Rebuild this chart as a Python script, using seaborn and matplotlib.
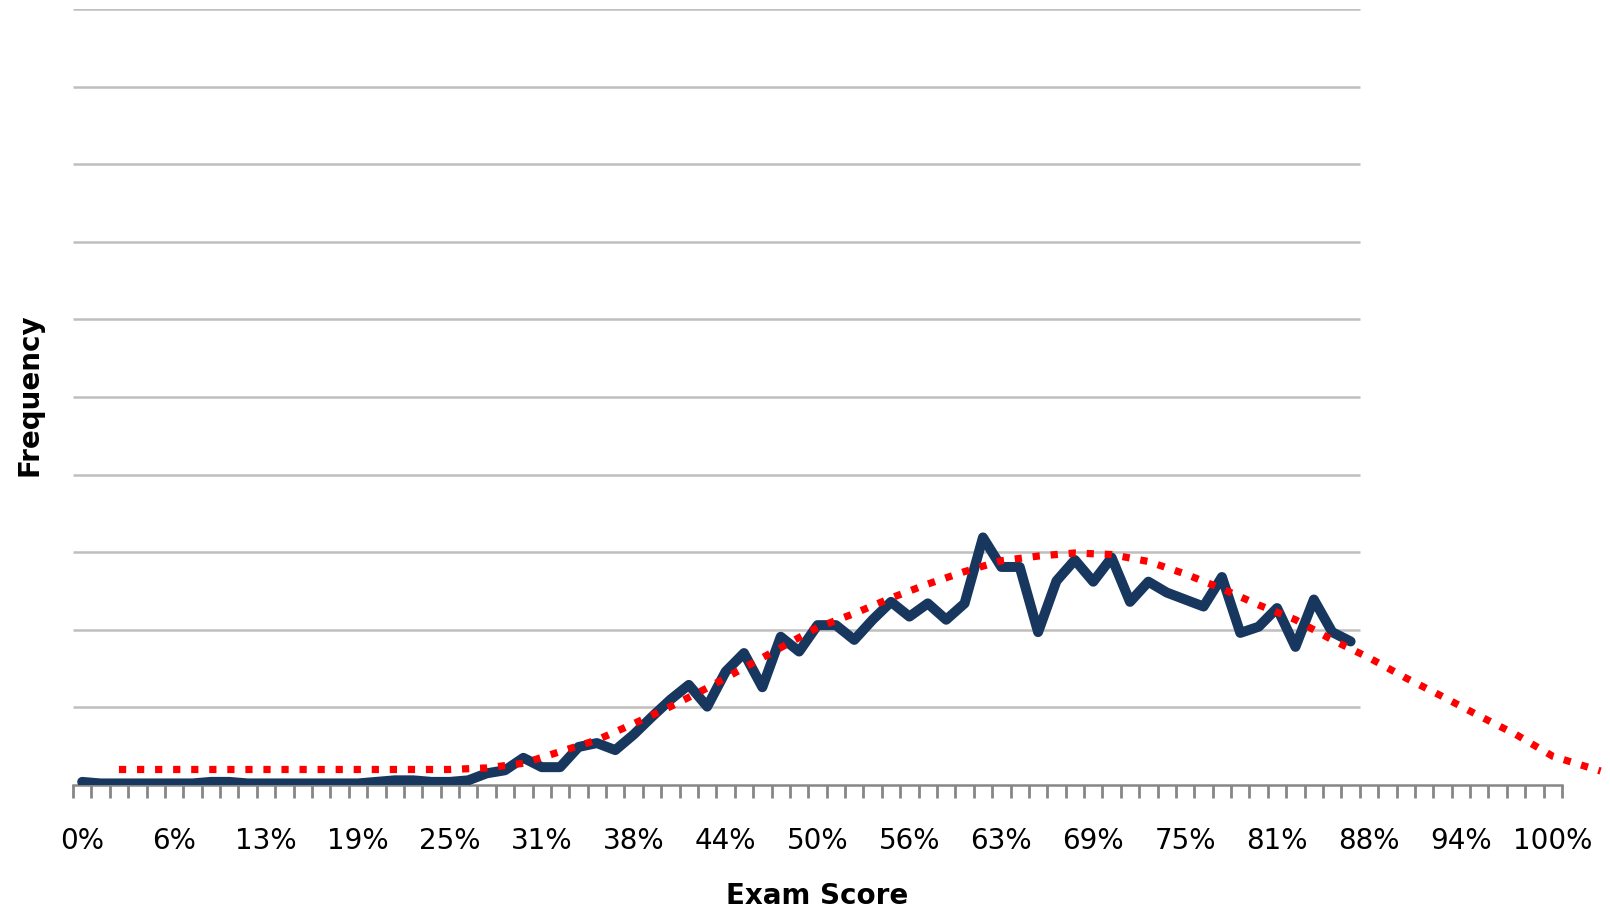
import numpy as np
import matplotlib
matplotlib.use("Agg")
import matplotlib.pyplot as plt
import seaborn as sns

### data (y in gridline units, x in percent)
scores = np.arange(70) * 1.25
freq = [0.04, 0.02, 0.02, 0.02, 0.02, 0.02, 0.02, 0.04, 0.04, 0.02,
        0.02, 0.02, 0.02, 0.02, 0.02, 0.02, 0.04, 0.06, 0.06, 0.04,
        0.04, 0.06, 0.15, 0.19, 0.35, 0.23, 0.23, 0.49, 0.54, 0.45,
        0.65, 0.88, 1.10, 1.29, 1.01, 1.46, 1.70, 1.26, 1.91, 1.72,
        2.06, 2.06, 1.87, 2.13, 2.36, 2.17, 2.34, 2.13, 2.34, 3.19,
        2.81, 2.81, 1.97, 2.63, 2.90, 2.62, 2.93, 2.36, 2.62, 2.48,
        2.39, 2.30, 2.68, 1.96, 2.04, 2.28, 1.78, 2.39, 1.97, 1.85]

normal_x = np.append(np.arange(2, 82, 2), 82.6) * 1.25
normal_y = [0.20, 0.20, 0.20, 0.20, 0.20, 0.20, 0.20, 0.20, 0.20, 0.20,
            0.22, 0.28, 0.43, 0.58, 0.79, 1.01, 1.25, 1.51, 1.77, 2.03,
            2.21, 2.41, 2.59, 2.75, 2.89, 2.95, 2.99, 2.97, 2.88, 2.72,
            2.53, 2.32, 2.13, 1.87, 1.64, 1.38, 1.14, 0.89, 0.65, 0.37,
            0.18]

tick_pos = np.arange(17) * 6.25
tick_labels = ["0%", "6%", "13%", "19%", "25%", "31%", "38%", "44%", "50%",
               "56%", "63%", "69%", "75%", "81%", "88%", "94%", "100%"]

sns.set_style("white")
plt.rcParams["font.family"] = ["DejaVu Sans"]
plt.rcParams["text.color"] = "black"
plt.rcParams["xtick.labelcolor"] = "black"

fig = plt.figure(figsize=(16.1, 9.11), dpi=100)
ax = fig.add_axes([73 / 1610, 1 - 785 / 911, (1562 - 73) / 1610, (785 - 9) / 911])

x_lo, x_hi = -0.625, 100.625
ax.set_xlim(x_lo, x_hi)
ax.set_ylim(0, 10)

### gridlines stop where the data ends
ax.hlines(np.arange(1, 11), x_lo, 86.875, color="#BFBFBF", lw=1.8, zorder=1)

sns.lineplot(x=scores, y=freq, ax=ax, color="#17375E", lw=7.2,
             solid_joinstyle="round", solid_capstyle="round", zorder=3)
sns.lineplot(x=normal_x, y=normal_y, ax=ax, color="#FF0000", lw=5.2,
             linestyle=(0, (1, 1.5)), dash_capstyle="butt", clip_on=False, zorder=4)

for s in ["top", "right", "left"]:
    ax.spines[s].set_visible(False)
ax.spines["bottom"].set_color("#868686")
ax.spines["bottom"].set_linewidth(1.8)
ax.spines["bottom"].set_zorder(2)

ax.set_yticks([])
ax.set_xticks(tick_pos)
ax.set_xticklabels(tick_labels, fontsize=20)
ax.set_xticks(np.arange(82) * 1.25 - 0.625, minor=True)
ax.tick_params(axis="x", which="major", length=0, pad=30)
ax.tick_params(axis="x", which="minor", length=9, width=2, color="#868686", direction="out")
ax.tick_params(axis="x", bottom=True, which="both")
ax.set_xlabel("")
ax.set_ylabel("")

fig.text(817 / 1610, 1 - 896 / 911, "Exam Score", fontsize=20, fontweight="bold",
         ha="center", va="center")
fig.text(29 / 1610, 1 - 395 / 911, "Frequency", fontsize=20, fontweight="bold",
         rotation=90, ha="center", va="center")

fig.savefig("out.png", dpi=100)
